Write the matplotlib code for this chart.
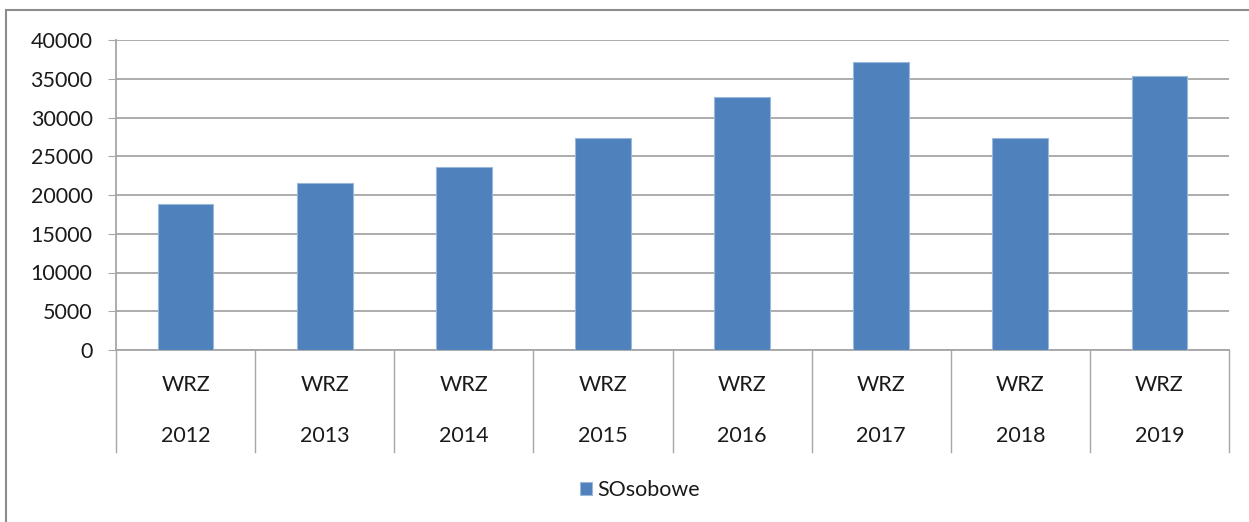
import matplotlib
matplotlib.use('Agg')
from matplotlib import pyplot as plt
from matplotlib.lines import Line2D
from matplotlib.patches import Rectangle
import matplotlib.transforms as mtransforms

plt.rcParams['font.family'] = ['Lato', 'DejaVu Sans']

years = ['2012', '2013', '2014', '2015', '2016', '2017', '2018', '2019']
groups = ['WRZ'] * 8
values = [18800, 21600, 23600, 27300, 32700, 37100, 27300, 35400]
series_name = 'SOsobowe'

W, H = 1249, 522
fig = plt.figure(figsize=(W / 100, H / 100), dpi=100)
ax = fig.add_axes([116 / W, (H - 350) / H, (1229 - 116) / W, 310 / H])

bar_color = '#4f81bd'
grid_color = '#a6a6a6'
text_color = '#1a1a1a'
fs = 15.5

x = list(range(len(years)))
bars = ax.bar(x, values, width=0.4, color=bar_color, edgecolor='#9bb7d9',
              linewidth=0.8, label=series_name, zorder=3)

ax.set_xlim(-0.5, len(years) - 0.5)
ax.set_ylim(0, 40000)
ax.set_yticks(range(0, 40001, 5000))
ax.tick_params(axis='y', length=5.8, color=grid_color, labelsize=fs,
               labelcolor=text_color, pad=11)
ax.set_xticks([])
ax.grid(axis='y', color=grid_color, linewidth=1.3, zorder=0)
for side in ['top', 'right']:
    ax.spines[side].set_visible(False)
for side in ['left', 'bottom']:
    ax.spines[side].set_color(grid_color)
    ax.spines[side].set_linewidth(1.3)

# two-level category axis
trans = mtransforms.blended_transform_factory(ax.transData, ax.transAxes)
depth = -102 / 310
for i in range(len(years) + 1):
    ax.add_line(Line2D([i - 0.5, i - 0.5], [0, depth], transform=trans,
                       color=grid_color, linewidth=1.0, clip_on=False))
for i, (g, yr) in enumerate(zip(groups, years)):
    ax.text(i, -35 / 310, g, transform=trans, ha='center', va='center',
            fontsize=fs, color=text_color)
    ax.text(i, -86 / 310, yr, transform=trans, ha='center', va='center',
            fontsize=fs, color=text_color)

fig.legend(handles=[bars], labels=[series_name], loc='center',
           bbox_to_anchor=(640 / W, 1 - 490 / H), frameon=False,
           fontsize=fs, handlelength=0.55, handleheight=0.6,
           handletextpad=0.25, labelcolor=text_color)

# chart border
fig.patches.append(Rectangle((6 / W, -0.1), 1.2, 1.1 - 10 / H,
                             transform=fig.transFigure, fill=False,
                             edgecolor='#8c8c8c', linewidth=1.5))

fig.savefig('out.png', dpi=100)
